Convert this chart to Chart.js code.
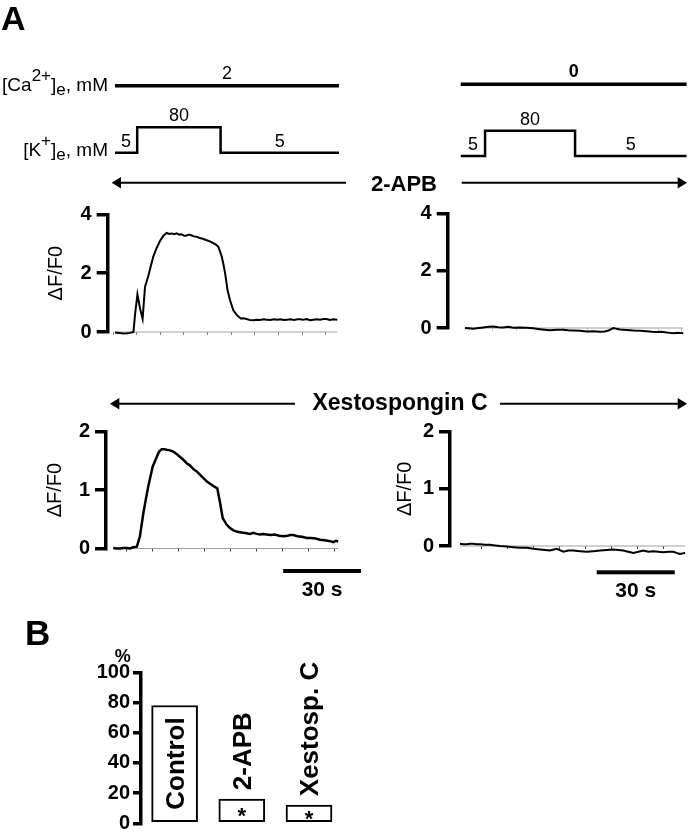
<!DOCTYPE html>
<html>
<head>
<meta charset="utf-8">
<script src="https://cdn.jsdelivr.net/npm/chart.js@4.4.1/dist/chart.umd.min.js"></script>
<style>
  body { margin: 0; background: #fff; }
  #fig { position: relative; width: 688px; height: 833px; overflow: hidden;
         font-family: "Liberation Sans", Arial, Helvetica, sans-serif; color: #000; }
  #fig canvas, #fig svg { position: absolute; left: 0; top: 0; pointer-events: none; }
  .lbl { position: absolute; white-space: nowrap; }
  .b { font-weight: bold; }
  .up { position: relative; top: -10px; font-size: 17px; }
  .dn { position: relative; top: 4px; font-size: 17px; }
</style>
</head>
<body>
<div id="fig">
  <canvas id="protoL" width="688" height="833"></canvas>
  <canvas id="protoR" width="688" height="833"></canvas>
  <canvas id="traceTL" width="688" height="833"></canvas>
  <canvas id="traceTR" width="688" height="833"></canvas>
  <canvas id="traceBL" width="688" height="833"></canvas>
  <canvas id="traceBR" width="688" height="833"></canvas>
  <canvas id="bars" width="688" height="833"></canvas>

  <!-- drug application arrows -->
  <svg width="688" height="833">
    <g stroke="#000" stroke-width="2">
      <line x1="119" y1="182.7" x2="346" y2="182.7"/>
      <line x1="461.7" y1="182.7" x2="679" y2="182.7"/>
      <line x1="117" y1="403.7" x2="295" y2="403.7"/>
      <line x1="500" y1="403.7" x2="679" y2="403.7"/>
    </g>
    <g fill="#000">
      <polygon points="111.7,182.7 121,177 121,188.4"/>
      <polygon points="687,182.7 677.7,177 677.7,188.4"/>
      <polygon points="110,403.7 119.3,398 119.3,409.4"/>
      <polygon points="687,403.7 677.7,398 677.7,409.4"/>
    </g>
  </svg>

  <div class="lbl b" style="left:1px;top:1px;font-size:34px;line-height:34px;">A</div>
  <div class="lbl b" style="left:25px;top:615px;font-size:35px;line-height:35px;">B</div>

  <div class="lbl" style="right:580px;top:74.9px;font-size:19px;line-height:19px;">[Ca<span class="up">2+</span>]<span class="dn">e</span>, mM</div>
  <div class="lbl" style="right:580px;top:139.6px;font-size:19px;line-height:19px;">[K<span class="up">+</span>]<span class="dn">e</span>, mM</div>

  <div class="lbl b" style="left:404px;top:173.1px;font-size:22px;line-height:22px;transform:translateX(-50%);">2-APB</div>
  <div class="lbl b" style="left:400px;top:390.5px;font-size:23px;line-height:23px;transform:translateX(-50%);">Xestospongin C</div>

  <div class="lbl b" style="left:114.7px;top:646.5px;font-size:18px;line-height:18px;">%</div>
</div>

<script>
// ==========================================
// Data
// ==========================================

// stimulation protocol: segment edges (s) and [K+]e per segment (mM)
const kEdgesLeft = [0.8, 10.2, 45.5, 95.6];
const kEdgesRight = [-3.5, 6.8, 44.9, 92.1];
const kLevels = [5, 80, 5];
const caLeft = 2;   // [Ca2+]e, mM
const caRight = 0;

// dF/F0 traces, time in s
const tlTime = [0.8, 2.5, 4.3, 6.0, 7.2, 8.6, 9.3, 10.3, 11.4, 12.5, 13.5, 14.9, 16.0, 17.0, 18.4, 19.9,
  21.3, 22.7, 23.7, 24.8, 25.9, 26.9, 28.0, 29.0, 30.1, 31.1, 32.2, 33.3, 34.3, 35.4, 36.4, 37.5,
  38.5, 39.6, 41.0, 42.4, 43.5, 44.5, 45.2, 46.0, 46.7, 47.4, 48.5, 49.5, 50.9, 52.3, 54.0, 55.3,
  56.5, 57.9, 59.4, 60.8, 62.2, 63.6, 65.0, 66.5, 68.0, 69.5, 71.0, 72.1, 73.6, 75.1, 76.6, 78.1,
  79.1, 80.5, 82.0, 83.3, 84.8, 86.2, 87.6, 89.0, 90.4, 91.8, 93.3, 94.9];
const tlRatio = [-0.02, -0.03, -0.05, -0.04, -0.03, 0.0, 0.6, 1.28, 0.8, 0.45, 1.53, 1.9, 2.25, 2.56, 2.85, 3.1,
  3.27, 3.37, 3.33, 3.35, 3.32, 3.35, 3.31, 3.32, 3.27, 3.28, 3.31, 3.28, 3.25, 3.24, 3.2, 3.18,
  3.15, 3.12, 3.08, 3.02, 2.97, 2.9, 2.75, 2.56, 2.3, 2.0, 1.4, 1.08, 0.74, 0.58, 0.46, 0.47,
  0.44, 0.41, 0.40, 0.42, 0.41, 0.43, 0.42, 0.41, 0.43, 0.42, 0.43, 0.41, 0.42, 0.43, 0.41, 0.43,
  0.43, 0.42, 0.44, 0.40, 0.42, 0.43, 0.42, 0.44, 0.44, 0.41, 0.43, 0.42];

const trTime = [-1.7, 0.0, 1.8, 4.0, 6.1, 8.2, 10.3, 12.4, 14.5, 16.6, 18.8, 21.6, 24.4, 27.2, 30.0, 32.2,
  34.3, 37.1, 39.9, 42.0, 44.2, 47.0, 49.8, 52.6, 55.4, 57.5, 59.0, 61.1, 62.5, 63.9, 66.7, 69.6,
  72.4, 75.2, 77.3, 79.4, 81.5, 83.7, 85.1, 86.5, 88.6, 90.7];
const trRatio = [0.0, -0.01, -0.03, 0.0, 0.02, 0.04, 0.05, 0.03, 0.02, 0.04, 0.01, 0.02, 0.01, -0.01, -0.04, -0.06,
  -0.08, -0.06, -0.06, -0.08, -0.09, -0.1, -0.12, -0.11, -0.13, -0.12, -0.09, 0.0, -0.03, -0.05, -0.07, -0.09,
  -0.1, -0.11, -0.13, -0.14, -0.13, -0.16, -0.17, -0.18, -0.17, -0.18];

const blTime = [-5.2, -3.9, -2.6, -1.3, 0, 1.3, 2.5, 3.9, 5.1, 6.4, 7.4, 8.3, 10.0, 11.6, 12.5, 13.5,
  14.5, 15.4, 16.7, 18.0, 19.2, 20.5, 21.8, 23.1, 24.4, 25.7, 27.0, 28.3, 29.5, 30.8, 32.1, 33.4,
  34.9, 36.0, 37.0, 38.5, 39.8, 41.1, 42.4, 43.6, 44.9, 46.2, 47.5, 48.8, 50.1, 51.4, 52.7, 54.0,
  55.5, 57.0, 58.8, 60.4, 62.0, 63.0, 64.2, 65.8, 67.5, 69.4, 71.0, 72.8, 74.5, 76.2, 77.9, 79.6,
  80.6, 81.5];
const blRatio = [0.01, 0.0, 0.0, 0.01, 0.01, 0.0, 0.02, 0.03, 0.21, 0.6, 0.85, 1.06, 1.4, 1.57, 1.66, 1.7,
  1.7, 1.69, 1.68, 1.66, 1.62, 1.57, 1.52, 1.46, 1.42, 1.36, 1.32, 1.26, 1.21, 1.15, 1.11, 1.07,
  1.03, 0.78, 0.52, 0.41, 0.35, 0.31, 0.29, 0.28, 0.27, 0.26, 0.25, 0.27, 0.25, 0.24, 0.25, 0.24,
  0.23, 0.24, 0.22, 0.21, 0.22, 0.23, 0.23, 0.21, 0.2, 0.18, 0.18, 0.17, 0.15, 0.14, 0.13, 0.11,
  0.13, 0.12];

const brTime = [-8.2, -6.9, -5.6, -4.3, -3.1, -1.8, -0.5, 1.5, 3.4, 5.3, 7.2, 9.8, 12.3, 14.9, 17.5, 20.0,
  22.6, 24.5, 26.4, 29.0, 31.6, 33.5, 35.4, 38.0, 40.5, 43.1, 45.7, 48.2, 50.8, 52.7, 54.6, 56.5,
  58.5, 60.4, 62.3, 64.2, 66.2, 68.1, 70.0, 72.0, 73.9, 75.1, 76.4, 78.4];
const brRatio = [0.04, 0.03, 0.03, 0.04, 0.04, 0.03, 0.03, 0.02, 0.02, 0.01, 0.0, -0.01, -0.02, -0.03, -0.03, -0.05,
  -0.06, -0.07, -0.08, -0.05, -0.1, -0.08, -0.08, -0.09, -0.1, -0.09, -0.08, -0.07, -0.06, -0.07, -0.08, -0.1,
  -0.12, -0.1, -0.08, -0.1, -0.09, -0.1, -0.11, -0.1, -0.1, -0.12, -0.14, -0.12];

// tick labels
const timeTicks = [0, 10, 20, 30, 40, 50, 60, 70, 80, 90];
const ratioTicksTop = [0, 2, 4];
const ratioTicksBottom = [0, 1, 2];
const pctTicks = [0, 20, 40, 60, 80, 100];
const scaleBarSeconds = 30;

// panel B
const barLabels = ['Control', '2-APB', 'Xestosp. C'];
const barValues = [78, 16, 12];
const barMarks = ['', '*', '*'];

// ==========================================
// Helpers
// ==========================================
const FONT = '"Liberation Sans", Arial, Helvetica, sans-serif';
const W = 688, H = 833;
Chart.defaults.font.family = FONT;
Chart.defaults.color = '#000';

// padding so that the chart area lands on the given page box
function pad(area, yW, xH) {
    return { left: area.l - yW, top: area.t, right: W - area.r, bottom: H - area.b - xH };
}

// min/max of a hidden vertical axis so v1 sits at p1 and v2 at p2
function fitRange(v1, p1, v2, p2, top, bottom) {
    const k = (p1 - p2) / (v2 - v1);
    return { min: v1 - (bottom - p1) / k, max: v1 + (p1 - top) / k };
}

function scaleBar(b) {
    return {
        id: 'scaleBar',
        afterDraw(chart) {
            const { ctx, chartArea } = chart;
            const x = chart.scales.x;
            const x1 = x.getPixelForValue(b.start);
            const x2 = x.getPixelForValue(b.start + scaleBarSeconds);
            const y = chartArea.bottom + b.dy;
            ctx.save();
            ctx.fillStyle = '#000';
            ctx.fillRect(x1, y - 2, x2 - x1, 4);
            ctx.font = 'bold 21px ' + FONT;
            ctx.textAlign = 'center';
            ctx.fillText(scaleBarSeconds + ' s', (x1 + x2) / 2, y + 25);
            ctx.restore();
        }
    };
}

function tracePanel(id, o) {
    const minX = (o.area.l - o.zero) / o.k;
    const maxX = (o.area.r - o.zero) / o.k;
    const last = o.time.length - 1;
    return new Chart(document.getElementById(id), {
        type: 'line',
        data: {
            datasets: [
                { data: o.time.map((t, i) => ({ x: t, y: o.ratio[i] })),
                  borderColor: '#000', borderWidth: o.lw, pointRadius: 0, clip: false },
                { data: [{ x: o.time[0], y: 0 }, { x: o.time[last], y: 0 }],
                  borderColor: '#a0a0a0', borderWidth: 1, pointRadius: 0, clip: false }
            ]
        },
        options: {
            responsive: false, animation: false, events: [],
            layout: { padding: pad(o.area, o.yW, 6) },
            plugins: { legend: { display: false }, tooltip: { enabled: false } },
            scales: {
                x: {
                    type: 'linear', min: minX, max: maxX,
                    afterBuildTicks: s => { s.ticks = timeTicks.filter(v => v >= minX && v <= maxX).map(v => ({ value: v })); },
                    afterFit: s => { s.height = 6; s.paddingLeft = 0; s.paddingRight = 0; },
                    border: { display: false },
                    grid: { drawOnChartArea: false, tickLength: 3, color: o.tickColor, lineWidth: 1 },
                    ticks: { display: false }
                },
                y: {
                    min: o.yTicks[0], max: o.yTicks[o.yTicks.length - 1],
                    afterBuildTicks: s => { s.ticks = o.yTicks.map(v => ({ value: v })); },
                    afterFit: s => { s.width = o.yW; s.paddingTop = 0; s.paddingBottom = 0; },
                    border: { color: '#000', width: 3.5 },
                    grid: { drawOnChartArea: false, color: '#000', lineWidth: 3.5, tickWidth: 3.5, tickLength: 11 },
                    ticks: { color: '#000', padding: 5, font: { size: 20, weight: 'bold' } },
                    title: { display: !!o.title, text: o.title, color: '#000', padding: 0, font: { size: 20 } }
                }
            }
        },
        plugins: o.bar ? [scaleBar(o.bar)] : []
    });
}

function protocolPanel(id, o) {
    const minX = (o.area.l - o.zero) / o.k;
    const maxX = (o.area.r - o.zero) / o.k;
    const e = o.edges, n = e.length - 1;
    const kPts = kLevels.map((v, i) => ({ x: e[i], y: v })).concat([{ x: e[n], y: kLevels[n - 1] }]);
    const kLo = Math.min(...kLevels), kHi = Math.max(...kLevels);
    const kRange = fitRange(kLo, o.kLowY, kHi, o.kHighY, o.area.t, o.area.b);
    const caRange = fitRange(o.ca, o.caY, o.ca + 1, o.caY - 1, o.area.t, o.area.b);

    const levelText = {
        id: 'levelText',
        afterDatasetsDraw(chart) {
            const { ctx, scales } = chart;
            ctx.save();
            ctx.fillStyle = '#000';
            ctx.textAlign = 'center';
            ctx.font = (o.caBold ? 'bold ' : '') + '18px ' + FONT;
            ctx.fillText(String(o.ca), scales.x.getPixelForValue((e[0] + e[n]) / 2), scales.yCa.getPixelForValue(o.ca) - 7);
            ctx.font = '18px ' + FONT;
            kLevels.forEach((v, i) => {
                ctx.fillText(String(v), scales.x.getPixelForValue((e[i] + e[i + 1]) / 2), scales.yK.getPixelForValue(v) - 6);
            });
            ctx.restore();
        }
    };

    return new Chart(document.getElementById(id), {
        type: 'line',
        data: {
            datasets: [
                { data: [{ x: e[0], y: o.ca }, { x: e[n], y: o.ca }], yAxisID: 'yCa',
                  borderColor: '#000', borderWidth: 3.5, pointRadius: 0, clip: false },
                { data: kPts, yAxisID: 'yK', stepped: true,
                  borderColor: '#000', borderWidth: 2.5, pointRadius: 0, clip: false }
            ]
        },
        options: {
            responsive: false, animation: false, events: [],
            layout: { padding: pad(o.area, 0, 0) },
            plugins: { legend: { display: false }, tooltip: { enabled: false } },
            scales: {
                x: { type: 'linear', display: false, min: minX, max: maxX },
                yCa: { type: 'linear', display: false, min: caRange.min, max: caRange.max },
                yK: { type: 'linear', display: false, min: kRange.min, max: kRange.max }
            }
        },
        plugins: [levelText]
    });
}

// ==========================================
// Panel A: protocols and traces
// ==========================================
protocolPanel('protoL', { area: { l: 107.7, t: 60, r: 341, b: 170 }, zero: 113.1, k: 2.3625,
    edges: kEdgesLeft, ca: caLeft, caY: 85.7, kLowY: 152.7, kHighY: 127.3 });
protocolPanel('protoR', { area: { l: 447.7, t: 60, r: 688, b: 170 }, zero: 469, k: 2.3625,
    edges: kEdgesRight, ca: caRight, caY: 84.3, kLowY: 156, kHighY: 130.7, caBold: true });

tracePanel('traceTL', { area: { l: 107.7, t: 214.3, r: 337.7, b: 332 }, zero: 113.1, k: 2.3625,
    time: tlTime, ratio: tlRatio, yTicks: ratioTicksTop, yW: 63, title: 'ΔF/F0', tickColor: '#808080', lw: 2 });
tracePanel('traceTR', { area: { l: 447.7, t: 213.3, r: 685, b: 328 }, zero: 469, k: 2.3625,
    time: trTime, ratio: trRatio, yTicks: ratioTicksTop, yW: 40, title: '', tickColor: '#c8c8c8', lw: 2 });
tracePanel('traceBL', { area: { l: 106, t: 431.7, r: 338.3, b: 548.5 }, zero: 126.7, k: 2.595,
    time: blTime, ratio: blRatio, yTicks: ratioTicksBottom, yW: 63, title: 'ΔF/F0', tickColor: '#404040', lw: 2.5,
    bar: { start: 60.3, dy: 22.5 } });
tracePanel('traceBR', { area: { l: 450, t: 431.7, r: 686.7, b: 546 }, zero: 481.3, k: 2.6,
    time: brTime, ratio: brRatio, yTicks: ratioTicksBottom, yW: 57, title: 'ΔF/F0', tickColor: '#404040', lw: 2,
    bar: { start: 44.4, dy: 26.3 } });

// ==========================================
// Panel B: bar chart
// ==========================================
const barText = {
    id: 'barText',
    afterDatasetsDraw(chart) {
        const { ctx } = chart;
        const meta = chart.getDatasetMeta(0);
        ctx.save();
        ctx.fillStyle = '#000';
        meta.data.forEach((bar, i) => {
            ctx.font = 'bold 26px ' + FONT;
            const w = ctx.measureText(barLabels[i]).width;
            const h = bar.base - bar.y;
            ctx.save();
            if (w + 10 < h) {
                ctx.translate(bar.x + 9, (bar.y + bar.base) / 2);
                ctx.rotate(-Math.PI / 2);
                ctx.textAlign = 'center';
            } else {
                ctx.translate(bar.x + 9, bar.y - 9);
                ctx.rotate(-Math.PI / 2);
                ctx.textAlign = 'left';
            }
            ctx.fillText(barLabels[i], 0, 0);
            ctx.restore();
            if (barMarks[i]) {
                ctx.font = 'bold 22px ' + FONT;
                ctx.textAlign = 'center';
                ctx.fillText(barMarks[i], bar.x, (bar.y + bar.base) / 2 + 13);
            }
        });
        ctx.restore();
    }
};

new Chart(document.getElementById('bars'), {
    type: 'bar',
    data: {
        labels: barLabels,
        datasets: [{
            data: barValues, backgroundColor: '#fff', borderColor: '#000',
            borderWidth: 2, borderSkipped: false, barThickness: 46
        }]
    },
    options: {
        responsive: false, animation: false, events: [],
        layout: { padding: pad({ l: 141, t: 672.3, r: 342.6, b: 823.3 }, 60, 0) },
        plugins: { legend: { display: false }, tooltip: { enabled: false } },
        scales: {
            x: { display: false },
            y: {
                min: 0, max: 100,
                afterBuildTicks: s => { s.ticks = pctTicks.map(v => ({ value: v })); },
                afterFit: s => { s.width = 60; s.paddingTop = 0; s.paddingBottom = 0; },
                border: { color: '#000', width: 3.5 },
                grid: { drawOnChartArea: false, color: '#000', lineWidth: 3.5, tickWidth: 3.5, tickLength: 8 },
                ticks: { color: '#000', padding: 3, font: { size: 20, weight: 'bold' } }
            }
        }
    },
    plugins: [barText]
});
</script>
</body>
</html>
